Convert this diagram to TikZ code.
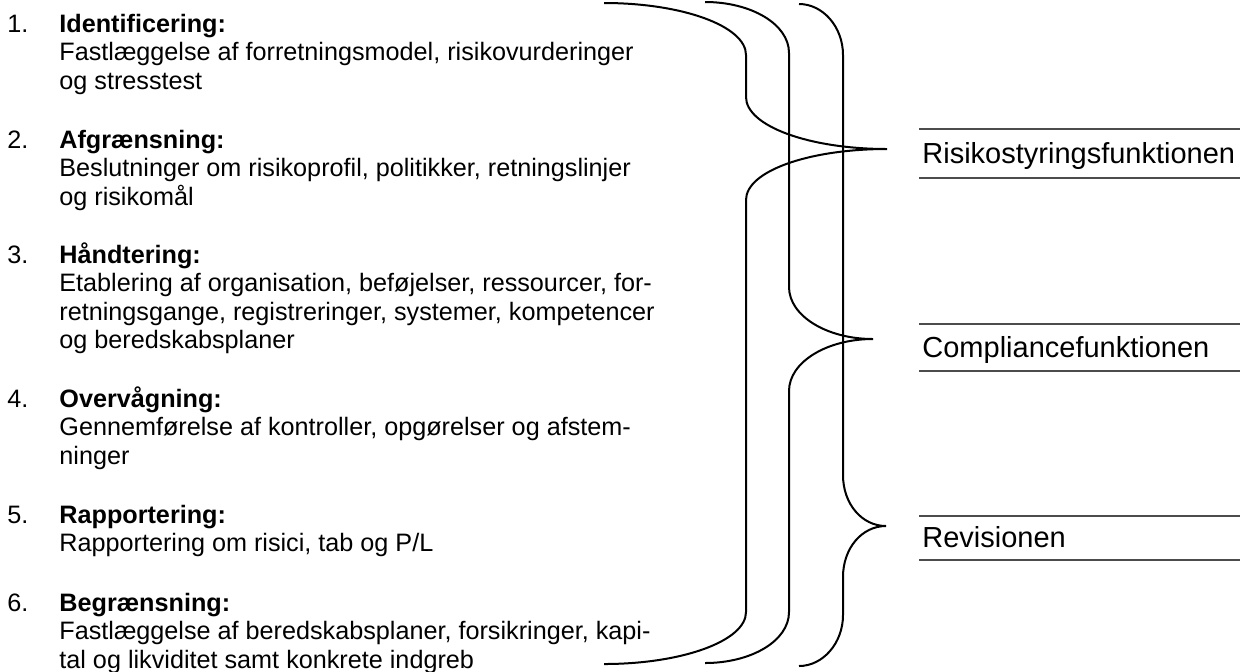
\documentclass[tikz,border=0pt]{standalone}
\usepackage{fontspec}
\setmainfont{Liberation Sans}
\begin{document}
\begin{tikzpicture}[x=0.5pt,y=-0.5pt,
  num/.style={anchor=base west,inner sep=0pt,font=\fontsize{12.6}{14.25}\selectfont},
  itemtext/.style={anchor=base west,inner sep=0pt,align=left,font=\fontsize{12.6}{14.25}\selectfont},
  lab/.style={anchor=base west,inner sep=0pt,font=\fontsize{14.5}{17}\selectfont},
  brace/.style={line width=1pt,black},
  rulestyle/.style={line width=0.6pt,black!70}]
\useasboundingbox (0,0) rectangle (1240,671);

% left list (text nodes anchored at the baseline of their last line)
\node[num] (n1) at (7,32) {1.};
\node[itemtext] (t1) at (59,89) {\textbf{Identificering:}\\Fastlæggelse af forretningsmodel, risikovurderinger\\og stresstest};
\node[num] (n2) at (7,148) {2.};
\node[itemtext] (t2) at (59,205) {\textbf{Afgrænsning:}\\Beslutninger om risikoprofil, politikker, retningslinjer\\og risikomål};
\node[num] (n3) at (7,263) {3.};
\node[itemtext] (t3) at (59,348.5) {\textbf{Håndtering:}\\Etablering af organisation, beføjelser, ressourcer, for-\\retningsgange, registreringer, systemer, kompetencer\\og beredskabsplaner};
\node[num] (n4) at (7,407) {4.};
\node[itemtext] (t4) at (59,464) {\textbf{Overvågning:}\\Gennemførelse af kontroller, opgørelser og afstem-\\ninger};
\node[num] (n5) at (7,523) {5.};
\node[itemtext] (t5) at (59,551.5) {\textbf{Rapportering:}\\Rapportering om risici, tab og P/L};
\node[num] (n6) at (7,611) {6.};
\node[itemtext] (t6) at (59,668) {\textbf{Begrænsning:}\\Fastlæggelse af beredskabsplaner, forsikringer, kapi-\\tal og likviditet samt konkrete indgreb};

% braces
\draw[brace] (604,3) .. controls (682,3) and (746,26) .. (746,55) -- (746,97)
  .. controls (746,126) and (809,149) .. (887,149)
  .. controls (809,149) and (746,171) .. (746,200) -- (746,612)
  .. controls (746,641) and (682,664) .. (604,664);
\draw[brace] (705,2) .. controls (751,2) and (789,24) .. (789,53) -- (789,287)
  .. controls (789,316) and (827,339) .. (873,339)
  .. controls (827,339) and (789,362) .. (789,391) -- (789,612)
  .. controls (789,641) and (751,663) .. (705,663);
\draw[brace] (799,4) .. controls (823,4) and (843,27) .. (843,55) -- (843,475)
  .. controls (843,504) and (862,526) .. (886,526)
  .. controls (862,526) and (843,548) .. (843,577) -- (843,615)
  .. controls (843,643) and (823,666) .. (799,666);

% labels
\draw[rulestyle] (919,129) -- (1240,129);
\node[lab] (l1) at (922,163) {Risikostyringsfunktionen};
\draw[rulestyle] (919,178) -- (1240,178);
\draw[rulestyle] (919,324) -- (1240,324);
\node[lab] (l2) at (922,357) {Compliancefunktionen};
\draw[rulestyle] (919,371) -- (1240,371);
\draw[rulestyle] (919,516) -- (1240,516);
\node[lab] (l3) at (922,547) {Revisionen};
\draw[rulestyle] (919,560) -- (1240,560);
\end{tikzpicture}
\end{document}
